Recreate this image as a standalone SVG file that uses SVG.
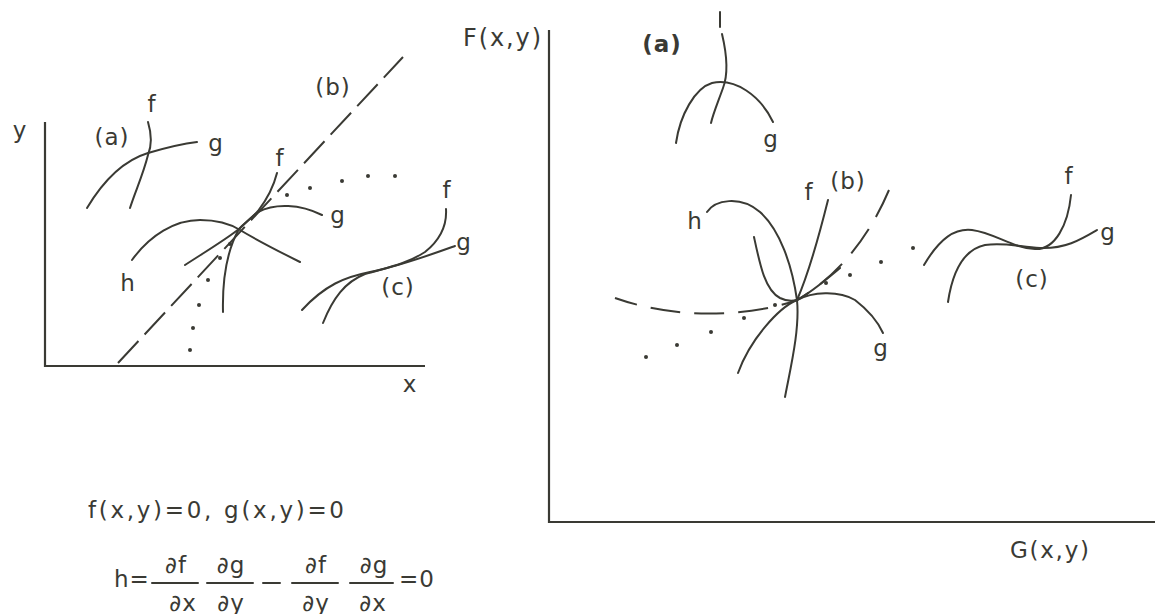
<svg xmlns="http://www.w3.org/2000/svg" width="1155" height="614" viewBox="0 0 1155 614">
<style>
.ln{fill:none;stroke:#3a3a34;stroke-width:2;stroke-linecap:round}
.ax{fill:none;stroke:#3a3a34;stroke-width:2.2}
.dl{fill:none;stroke:#3a3a34;stroke-width:2;stroke-dasharray:30 9}
.dr{fill:none;stroke:#3a3a34;stroke-width:2;stroke-dasharray:30 14}
.dot{fill:#3a3a34}
text{font-family:"DejaVu Sans","Liberation Sans",sans-serif;font-size:23px;fill:#3a3a34;letter-spacing:1px}
.b{font-weight:bold}
.m{text-anchor:middle}
</style>
<rect width="1155" height="614" fill="#fff"/>
<g id="left-axes">
<path class="ax" d="M45,122 V366 H425"/>
<text x="20" y="138" class="m">y</text>
<text x="410" y="392" class="m">x</text>
</g>
<g id="left-a">
<path class="ln" d="M87,208 C105,178 125,160 148,153 C165,148 180,144 197,142"/>
<path class="ln" d="M148,122 C151,132 152,145 148,155 C143,175 135,192 130,208"/>
<text x="112" y="145" class="m">(a)</text>
<text x="152" y="112" class="m">f</text>
<text x="216" y="151" class="m">g</text>
</g>
<g id="left-b">
<path class="dl" d="M118,363 L403,57"/>
<path class="ln" d="M277,173 C274,185 268,198 258,211 C250,220 243,224 239,229 C230,245 222,270 223,312"/>
<path class="ln" d="M185,265 C205,252 225,240 239,229 C247,222 252,216 258,212 C275,203 300,204 322,215"/>
<path class="ln" d="M132,260 C150,235 175,220 200,220 C220,220 232,225 240,230 C260,242 280,252 300,262"/>
<g class="dot">
<circle cx="230" cy="244" r="2"/><circle cx="220" cy="258" r="2"/><circle cx="208" cy="280" r="2"/><circle cx="199" cy="305" r="2"/><circle cx="193" cy="328" r="2"/><circle cx="190" cy="350" r="2"/>
<circle cx="287" cy="195" r="2"/><circle cx="310" cy="188" r="2"/><circle cx="342" cy="181" r="2"/><circle cx="368" cy="176" r="2"/><circle cx="395" cy="176" r="2"/>
</g>
<text x="333" y="95" class="m">(b)</text>
<text x="280" y="166" class="m">f</text>
<text x="338" y="223" class="m">g</text>
<text x="128" y="291" class="m">h</text>
</g>
<g id="left-c">
<path class="ln" d="M302,310 C325,285 345,277 370,272 C400,266 430,255 455,246"/>
<path class="ln" d="M323,323 C333,298 345,282 365,274 C385,268 405,265 425,252 C440,240 447,225 446,209"/>
<text x="398" y="295" class="m">(c)</text>
<text x="447" y="198" class="m">f</text>
<text x="464" y="250" class="m">g</text>
</g>
<g id="formula">
<text x="88" y="518" textLength="257" lengthAdjust="spacing">f(x,y)=0, g(x,y)=0</text>
<text x="114" y="587">h=</text>
<path class="ln" d="M152,583 H198 M207,583 H253 M263,583 H280 M292,583 H338 M350,583 H393"/>
<text x="176" y="573" class="m">∂f</text>
<text x="231" y="573" class="m">∂g</text>
<text x="316" y="573" class="m">∂f</text>
<text x="374" y="573" class="m">∂g</text>
<text x="183" y="611" class="m">∂x</text>
<text x="231" y="611" class="m">∂y</text>
<text x="316" y="611" class="m">∂y</text>
<text x="373" y="611" class="m">∂x</text>
<text x="399" y="587">=0</text>
</g>
<g id="right-axes">
<path class="ax" d="M549,30 V522 H1155"/>
<text x="463" y="46" textLength="79" lengthAdjust="spacing" style="font-size:24px">F(x,y)</text>
<text x="1010" y="558" textLength="80" lengthAdjust="spacing">G(x,y)</text>
</g>
<g id="right-a">
<path class="ln" d="M720,12 L720,27"/>
<path class="ln" d="M722,34 C727,55 728,75 723,88 C718,102 713,114 711,123"/>
<path class="ln" d="M676,143 C680,115 695,88 712,83 C735,78 760,95 773,122"/>
<text x="662" y="52" class="m b">(a)</text>
<text x="771" y="147" class="m">g</text>
</g>
<g id="right-b">
<path class="ln" d="M707,212 C715,200 740,195 760,212 C780,230 792,265 797,300 C800,330 790,370 785,397"/>
<path class="ln" d="M828,200 C818,240 808,275 797,300 C778,308 750,340 738,373"/>
<path class="ln" d="M754,237 C760,265 765,290 780,298 C788,302 793,301 797,300 C812,292 828,278 840,268"/>
<path class="ln" d="M797,300 C812,292 838,290 855,300 C868,310 878,322 883,333"/>
<path class="dr" d="M889,190 C870,235 840,275 797,300 C765,312 720,315 690,313 C660,311 635,305 615,298"/>
<g class="dot">
<circle cx="646" cy="357" r="2"/><circle cx="677" cy="345" r="2"/><circle cx="711" cy="332" r="2"/><circle cx="744" cy="318" r="2"/><circle cx="775" cy="305" r="2"/>
<circle cx="826" cy="283" r="2"/><circle cx="850" cy="275" r="2"/><circle cx="881" cy="262" r="2"/><circle cx="913" cy="248" r="2"/>
</g>
<text x="695" y="229" class="m">h</text>
<text x="809" y="200" class="m">f</text>
<text x="848" y="189" class="m">(b)</text>
<text x="881" y="356" class="m">g</text>
</g>
<g id="right-c">
<path class="ln" d="M924,265 C940,238 955,228 972,230 C995,233 1012,248 1035,249 C1055,250 1068,225 1071,195"/>
<path class="ln" d="M948,302 C952,275 962,250 985,245 C1005,242 1020,247 1040,248 C1065,249 1080,240 1097,230"/>
<text x="1032" y="287" class="m">(c)</text>
<text x="1069" y="184" class="m">f</text>
<text x="1108" y="240" class="m">g</text>
</g>
</svg>
